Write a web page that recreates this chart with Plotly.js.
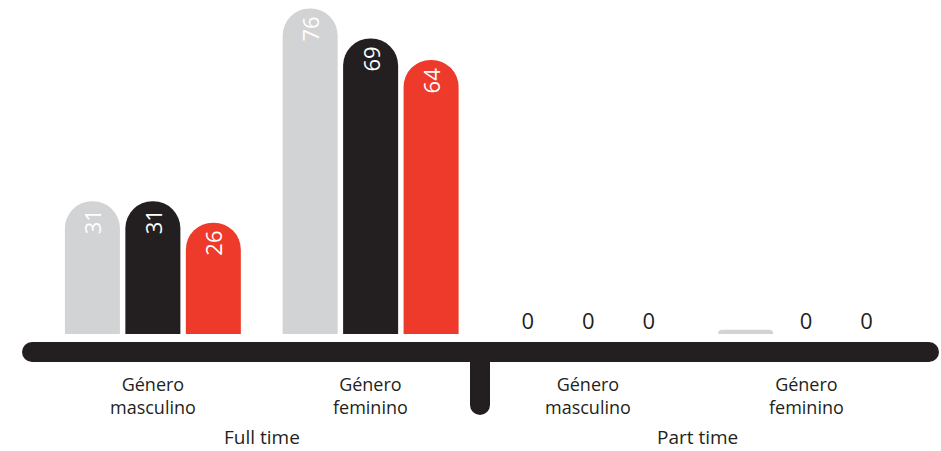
<!DOCTYPE html>
<html>
<head>
<meta charset="utf-8">
<script src="https://cdn.plot.ly/plotly-3.0.1.min.js"></script>
<style>html,body{margin:0;padding:0;background:#fff;}#chart{width:941px;height:451px;}</style>
</head>
<body>
<div id="chart"></div>
<script>
// ---- data ----
const categories = ['FT masculino', 'FT feminino', 'PT masculino', 'PT feminino'];
const genderLabels = ['Género<br>masculino', 'Género<br>feminino', 'Género<br>masculino', 'Género<br>feminino'];
const groupLabels = ['Full time', 'Part time'];
const seriesNames = ['Serie 1', 'Serie 2', 'Serie 3'];
const series1 = [31, 76, 0, 1];
const series2 = [31, 69, 0, 0];
const series3 = [26, 64, 0, 0];
const seriesColors = ['#d1d3d4', '#231f20', '#ee3a2b'];

const allSeries = [series1, series2, series3];
const FONT = '"Open Sans", Roboto, sans-serif';
const dark = '#231f20';

const traces = [];
allSeries.forEach((vals, i) => {
  traces.push({
    type: 'bar', x: categories, y: vals, name: seriesNames[i],
    offsetgroup: 'g' + i,
    marker: {color: seriesColors[i], cornerradius: '50%', line: {width: 0}},
    text: vals.map(v => v > 0 ? String(v) : ''),
    textposition: 'inside', insidetextanchor: 'end', textangle: -90,
    insidetextfont: {family: FONT, size: 22, color: '#ffffff'},
    hoverinfo: 'skip', showlegend: false, cliponaxis: false
  });
});
// upright "0" labels for empty categories, in the same slots
allSeries.forEach((vals, i) => {
  traces.push({
    type: 'scatter', mode: 'text', x: categories, y: vals.map(v => v === 0 ? 0 : null),
    name: seriesNames[i] + ' (0)', offsetgroup: 'g' + i,
    text: vals.map(v => v === 0 ? '0' : ''),
    textposition: 'top center',
    textfont: {family: FONT, size: 22, color: dark},
    hoverinfo: 'skip', showlegend: false, cliponaxis: false
  });
});

const M = {l: 44, r: 26, t: 0, b: 117};
const W = 941, H = 451;
const pw = W - M.l - M.r, ph = H - M.t - M.b;
const px = X => (X - M.l) / pw;          // page px -> paper x
const py = Y => (M.t + ph - Y) / ph;     // page px -> paper y

const shapes = [
  {type: 'rect', xref: 'paper', yref: 'paper', x0: px(32), x1: px(929), y0: py(342), y1: py(362), fillcolor: dark, line: {width: 0}},
  {type: 'circle', xref: 'paper', yref: 'paper', xsizemode: 'pixel', ysizemode: 'pixel', xanchor: px(32), yanchor: py(352), x0: -10, x1: 10, y0: -10, y1: 10, fillcolor: dark, line: {width: 0}},
  {type: 'circle', xref: 'paper', yref: 'paper', xsizemode: 'pixel', ysizemode: 'pixel', xanchor: px(929), yanchor: py(352), x0: -10, x1: 10, y0: -10, y1: 10, fillcolor: dark, line: {width: 0}},
  {type: 'rect', xref: 'paper', yref: 'paper', x0: px(470), x1: px(490), y0: py(352), y1: py(405), fillcolor: dark, line: {width: 0}},
  {type: 'circle', xref: 'paper', yref: 'paper', xsizemode: 'pixel', ysizemode: 'pixel', xanchor: px(480), yanchor: py(405), x0: -10, x1: 10, y0: -10, y1: 10, fillcolor: dark, line: {width: 0}}
];

const annotations = [];
categories.forEach((c, i) => {
  annotations.push({xref: 'x', yref: 'paper', x: i, y: py(395), text: genderLabels[i], showarrow: false,
    xanchor: 'center', yanchor: 'middle', align: 'center', font: {family: FONT, size: 18, color: dark}});
});
groupLabels.forEach((g, j) => {
  annotations.push({xref: 'x', yref: 'paper', x: 2 * j + 0.5, y: py(437), text: g, showarrow: false,
    xanchor: 'center', yanchor: 'middle', font: {family: FONT, size: 19, color: dark}});
});

const layout = {
  width: W, height: H, margin: M,
  paper_bgcolor: '#ffffff', plot_bgcolor: '#ffffff',
  barmode: 'group', bargap: 0.167, bargroupgap: 0.09,
  scattermode: 'group', scattergap: 0.167,
  showlegend: false,
  font: {family: FONT, color: dark},
  xaxis: {type: 'category', showgrid: false, zeroline: false, showline: false, showticklabels: false, ticks: ''},
  yaxis: {range: [0, 78], visible: false, showgrid: false, zeroline: false, fixedrange: true},
  shapes: shapes,
  annotations: annotations
};

Plotly.newPlot('chart', traces, layout, {displayModeBar: false, staticPlot: true});
</script>
</body>
</html>
